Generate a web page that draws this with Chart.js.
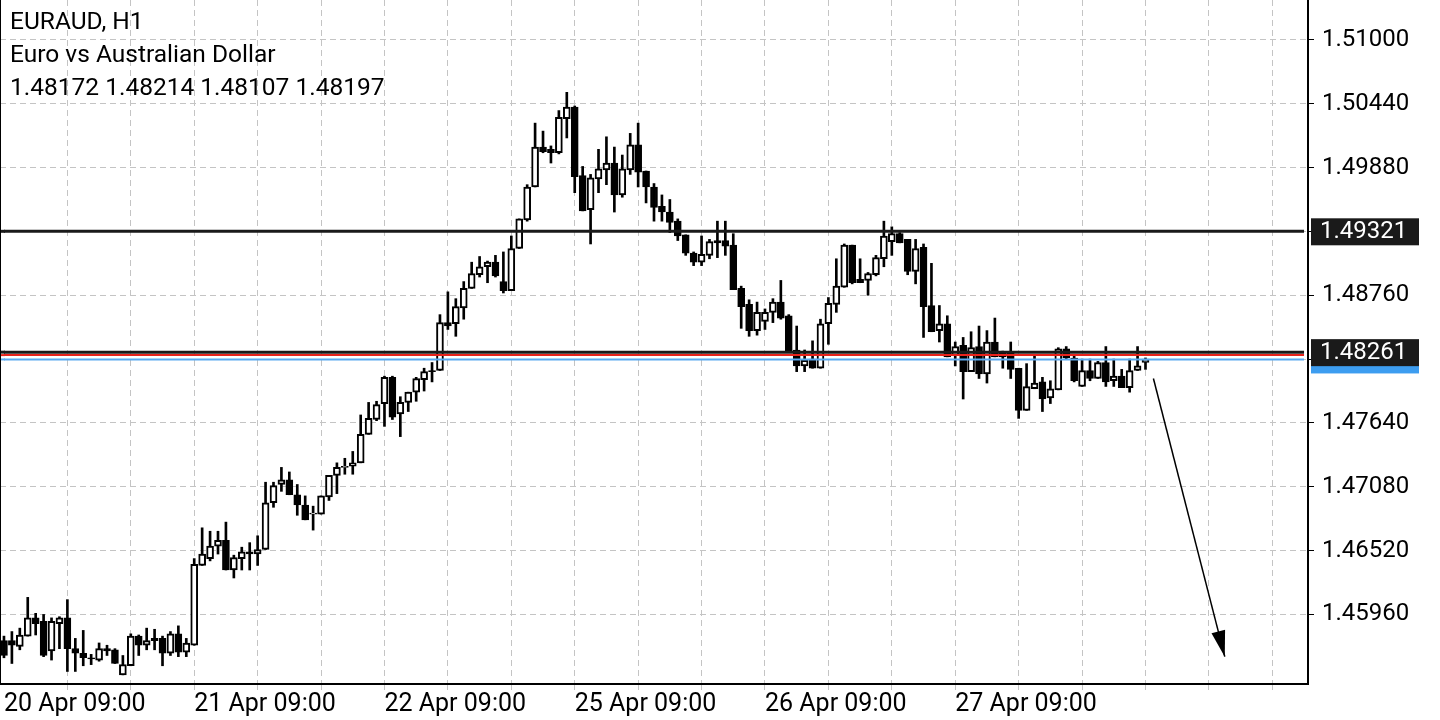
<!DOCTYPE html>
<html><head><meta charset="utf-8">
<script src="https://cdn.jsdelivr.net/npm/chart.js@4.4.1/dist/chart.umd.min.js"></script>
<style>html,body{margin:0;padding:0;background:#fff;overflow:hidden}#wrap{position:relative;width:1440px;height:720px}
#info{position:absolute;left:10px;top:4px;font:24.5px Roboto,sans-serif;line-height:33px;color:#000;pointer-events:none}</style>
</head><body><div id="wrap"><canvas id="c" width="1440" height="720"></canvas>
<div id="info">EURAUD, H1<br>Euro vs Australian Dollar<br>1.48172 1.48214 1.48107 1.48197</div></div>
<script>
const symbolTitle = "EURAUD, H1";
const timeTicks = ["20 Apr 09:00","21 Apr 09:00","22 Apr 09:00","25 Apr 09:00","26 Apr 09:00","27 Apr 09:00"];
const priceTicks = [1.45960,1.46520,1.47080,1.47640,1.48200,1.48760,1.49320,1.49880,1.50440,1.51000];
const openP = [1.4573,1.4573,1.4568,1.4577,1.4593,1.4590,1.4564,1.4588,1.4593,1.4566,1.4562,1.4558,1.4556,1.4566,1.4565,1.4543,1.4551,1.4577,1.4569,1.4575,1.4575,1.4562,1.4579,1.4563,1.4569,1.4639,1.4645,1.4656,1.4661,1.4635,1.4645,1.4651,1.4649,1.4653,1.4694,1.4710,1.4714,1.4701,1.4692,1.4684,1.4684,1.4699,1.4718,1.4725,1.4726,1.4729,1.4754,1.4767,1.4781,1.4804,1.4772,1.4782,1.4791,1.4802,1.4810,1.4810,1.4852,1.4851,1.4865,1.4882,1.4894,1.4901,1.4905,1.4888,1.4880,1.4917,1.4942,1.4971,1.5006,1.5004,1.5001,1.5031,1.5041,1.4981,1.4951,1.4978,1.4986,1.4992,1.4964,1.4986,1.5008,1.4985,1.4971,1.4954,1.4949,1.4941,1.4929,1.4913,1.4905,1.4911,1.4924,1.4924,1.4920,1.4882,1.4868,1.4845,1.4853,1.4861,1.4870,1.4858,1.4828,1.4814,1.4820,1.4812,1.4851,1.4868,1.4883,1.4920,1.4890,1.4889,1.4894,1.4908,1.4923,1.4930,1.4925,1.4897,1.4918,1.4867,1.4845,1.4851,1.4823,1.4832,1.4809,1.4831,1.4807,1.4835,1.4822,1.4826,1.4812,1.4775,1.4794,1.4800,1.4786,1.4793,1.4829,1.4821,1.4796,1.4810,1.4803,1.4817,1.4801,1.4805,1.4795,1.4810,1.4817];
const highP = [1.4577,1.4581,1.4584,1.4611,1.4597,1.4596,1.4593,1.4594,1.4609,1.4575,1.4582,1.4561,1.4571,1.4569,1.4566,1.4560,1.4579,1.4578,1.4584,1.4583,1.4577,1.4581,1.4586,1.4575,1.4645,1.4672,1.4669,1.4669,1.4677,1.4648,1.4655,1.4659,1.4665,1.4712,1.4712,1.4725,1.4721,1.4710,1.4700,1.4691,1.4700,1.4718,1.4729,1.4733,1.4739,1.4771,1.4782,1.4783,1.4805,1.4805,1.4787,1.4791,1.4804,1.4812,1.4817,1.4859,1.4879,1.4873,1.4888,1.4905,1.4910,1.4906,1.4911,1.4914,1.4928,1.4943,1.4973,1.5027,1.5020,1.5007,1.5038,1.5054,1.5042,1.4989,1.4982,1.5004,1.5015,1.5006,1.4999,1.5018,1.5027,1.4985,1.4974,1.4964,1.4960,1.4943,1.4929,1.4914,1.4928,1.4925,1.4941,1.4941,1.4930,1.4884,1.4872,1.4870,1.4864,1.4873,1.4889,1.4859,1.4849,1.4828,1.4836,1.4855,1.4874,1.4908,1.4921,1.4920,1.4908,1.4896,1.4911,1.4941,1.4936,1.4931,1.4925,1.4925,1.4921,1.4904,1.4867,1.4858,1.4835,1.4839,1.4844,1.4849,1.4845,1.4856,1.4827,1.4835,1.4812,1.4816,1.4823,1.4804,1.4801,1.4830,1.4831,1.4824,1.4820,1.4820,1.4818,1.4831,1.4820,1.4811,1.4820,1.4831,1.4821];
const lowP = [1.4558,1.4553,1.4565,1.4577,1.4578,1.4559,1.4556,1.4566,1.4546,1.4546,1.4551,1.4552,1.4555,1.4560,1.4553,1.4543,1.4551,1.4560,1.4565,1.4565,1.4551,1.4560,1.4559,1.4559,1.4569,1.4639,1.4643,1.4649,1.4635,1.4628,1.4635,1.4635,1.4639,1.4653,1.4690,1.4704,1.4701,1.4683,1.4679,1.4670,1.4684,1.4696,1.4702,1.4719,1.4719,1.4729,1.4754,1.4766,1.4761,1.4767,1.4752,1.4774,1.4783,1.4792,1.4800,1.4810,1.4846,1.4840,1.4855,1.4882,1.4892,1.4887,1.4892,1.4878,1.4880,1.4917,1.4941,1.4971,1.5001,1.4992,1.5000,1.5014,1.4966,1.4950,1.4921,1.4966,1.4973,1.4949,1.4962,1.4982,1.4971,1.4957,1.4941,1.4941,1.4931,1.4924,1.4911,1.4902,1.4902,1.4908,1.4909,1.4911,1.4881,1.4847,1.4840,1.4841,1.4846,1.4852,1.4855,1.4827,1.4809,1.4809,1.4812,1.4812,1.4833,1.4861,1.4883,1.4886,1.4887,1.4876,1.4893,1.4901,1.4911,1.4922,1.4894,1.4886,1.4839,1.4844,1.4835,1.4822,1.4814,1.4785,1.4809,1.4803,1.4799,1.4822,1.4812,1.4803,1.4768,1.4775,1.4794,1.4774,1.4781,1.4793,1.4820,1.4800,1.4796,1.4801,1.4803,1.4796,1.4796,1.4795,1.4791,1.4810,1.4811];
const closeP = [1.4560,1.4569,1.4578,1.4593,1.4588,1.4560,1.4590,1.4593,1.4566,1.4562,1.4558,1.4557,1.4566,1.4564,1.4553,1.4552,1.4577,1.4569,1.4573,1.4573,1.4562,1.4579,1.4563,1.4571,1.4640,1.4649,1.4656,1.4661,1.4635,1.4646,1.4651,1.4649,1.4653,1.4694,1.4709,1.4714,1.4701,1.4692,1.4679,1.4685,1.4700,1.4718,1.4725,1.4726,1.4729,1.4754,1.4768,1.4780,1.4804,1.4769,1.4782,1.4791,1.4803,1.4809,1.4809,1.4852,1.4849,1.4866,1.4882,1.4895,1.4901,1.4905,1.4893,1.4880,1.4917,1.4943,1.4971,1.5006,1.5002,1.5001,1.5032,1.5041,1.4980,1.4950,1.4979,1.4987,1.4992,1.4964,1.4987,1.5008,1.4984,1.4971,1.4953,1.4949,1.4940,1.4928,1.4913,1.4905,1.4912,1.4923,1.4922,1.4919,1.4881,1.4866,1.4845,1.4861,1.4861,1.4870,1.4856,1.4827,1.4814,1.4819,1.4812,1.4851,1.4869,1.4884,1.4920,1.4887,1.4887,1.4895,1.4909,1.4928,1.4930,1.4922,1.4897,1.4917,1.4866,1.4844,1.4851,1.4822,1.4831,1.4809,1.4830,1.4807,1.4835,1.4822,1.4826,1.4811,1.4775,1.4796,1.4799,1.4785,1.4794,1.4829,1.4821,1.4801,1.4810,1.4803,1.4817,1.4800,1.4805,1.4795,1.4810,1.4814,1.4820];
const levelTop = 1.49321, levelMid = 1.48261, levelRed = 1.48235, levelBid = 1.48197;
const arrowPrices = [1.4803, 1.4559];
const arrowIdx = [145, 154];
const totalSlots = 165;

const labels = Array.from({length: totalSlots}, (_, i) => String(i));
const wick = lowP.map((l, i) => [l, highP[i]]);
const body = openP.map((o, i) => [o, closeP[i]]);
const bodyFill = openP.map((o, i) => closeP[i] >= o ? '#ffffff' : '#000000');
const flat = v => labels.map(() => v);

const levelExtend = {
  id: 'levelExtend',
  beforeDatasetsDraw(chart) {
    // extend the level lines over the left half-slot that the category scale leaves empty
    const ctx = chart.ctx, y = chart.scales.y, a = chart.chartArea, x0 = chart.scales.x.getPixelForValue(0);
    ctx.save();
    [[levelBid,'#5aa9f0',2],[levelRed,'#e8231c',2],[levelTop,'#1a1a1a',3],[levelMid,'#1a1a1a',3]].forEach(([v,c,w]) => {
      ctx.strokeStyle = c; ctx.lineWidth = w; const py = y.getPixelForValue(v);
      ctx.beginPath(); ctx.moveTo(a.left, py); ctx.lineTo(x0 + 1, py); ctx.stroke();
    });
    ctx.restore();
  }
};

const overlay = {
  id: 'overlay',
  afterDatasetsDraw(chart) {
    const ctx = chart.ctx, y = chart.scales.y, a = chart.chartArea;
    const meta = chart.getDatasetMeta(6);
    const p0 = meta.data[0], p1 = meta.data[1];
    const ang = Math.atan2(p1.y - p0.y, p1.x - p0.x);
    ctx.save(); ctx.fillStyle = '#000';
    ctx.beginPath(); ctx.moveTo(p1.x, p1.y);
    ctx.lineTo(p1.x - 26*Math.cos(ang) + 7*Math.sin(ang), p1.y - 26*Math.sin(ang) - 7*Math.cos(ang));
    ctx.lineTo(p1.x - 26*Math.cos(ang) - 7*Math.sin(ang), p1.y - 26*Math.sin(ang) + 7*Math.cos(ang));
    ctx.closePath(); ctx.fill();
    ctx.strokeStyle = '#000'; ctx.lineWidth = 2;
    ctx.beginPath(); ctx.moveTo(a.right, a.top); ctx.lineTo(a.right, a.bottom); ctx.lineTo(a.left, a.bottom); ctx.stroke();
    ctx.lineWidth = 1; ctx.beginPath(); ctx.moveTo(a.left+0.5, a.top); ctx.lineTo(a.left+0.5, a.bottom); ctx.stroke();
    ctx.font = '24px Roboto, sans-serif'; ctx.textBaseline = 'middle';
    const box = (v, bg, txt) => {
      const py = y.getPixelForValue(v);
      ctx.fillStyle = bg; ctx.fillRect(a.right + 3, py - 13, 108, 27);
      ctx.fillStyle = '#fff'; ctx.fillText(txt, a.right + 12, py + 1);
    };
    box(levelBid, '#3d9df0', levelBid.toFixed(5));
    box(levelTop, '#1a1a1a', levelTop.toFixed(5));
    box(levelMid, '#1a1a1a', levelMid.toFixed(5));
    ctx.restore();
  }
};

new Chart(document.getElementById('c'), {
  data: {
    labels,
    datasets: [
      {type:'bar', data: wick, backgroundColor:'#000', barThickness:2, grouped:false, order:3},
      {type:'bar', data: body, backgroundColor: bodyFill, borderColor:'#000', borderWidth:2, borderSkipped:false, barThickness:7, grouped:false, order:2},
      {type:'line', data: flat(levelBid), borderColor:'#5aa9f0', borderWidth:2, pointRadius:0, order:1},
      {type:'line', data: flat(levelRed), borderColor:'#e8231c', borderWidth:2, pointRadius:0, order:1},
      {type:'line', data: flat(levelTop), borderColor:'#1a1a1a', borderWidth:3, pointRadius:0, order:0},
      {type:'line', data: flat(levelMid), borderColor:'#1a1a1a', borderWidth:3, pointRadius:0, order:0},
      {type:'line', data: [{x: labels[arrowIdx[0]], y: arrowPrices[0]}, {x: labels[arrowIdx[1]], y: arrowPrices[1]}], borderColor:'#000', borderWidth:1.5, pointRadius:0, order:0}
    ]
  },
  options: {
    responsive:false, animation:false, devicePixelRatio:1,
    layout:{padding:0},
    plugins:{legend:{display:false}, tooltip:{enabled:false}},
    scales:{
      x:{offset:true, grid:{offset:false, drawTicks:true, tickLength:6, color: c => (c.index % 8 === 0 && c.index>0) ? '#c4c4c4' : 'rgba(0,0,0,0)'},
         border:{display:false, dash:[6,4]},
         ticks:{autoSkip:false, maxRotation:0, align:'start', color:'#000', font:{family:'Roboto', size:25}, padding:0,
           callback:(v,i)=> (i % 24 === 0 && timeTicks[i/24]) ? timeTicks[i/24] : ''}},
      y:{position:'right', min:1.4535, max:1.5135,
         afterFit: s => { s.width = 132; s.paddingTop = 0; s.paddingBottom = 0; },
         afterBuildTicks: s => { s.ticks = priceTicks.map(v => ({value:v})); },
         grid:{color:'#c4c4c4', tickLength:6, tickColor:'#000'}, border:{display:false, dash:[6,4]},
         ticks:{color:'#000', font:{family:'Roboto', size:24}, padding:8, callback: v => Number(v).toFixed(5)}}
    }
  },
  plugins:[levelExtend, overlay]
});
</script></body></html>
